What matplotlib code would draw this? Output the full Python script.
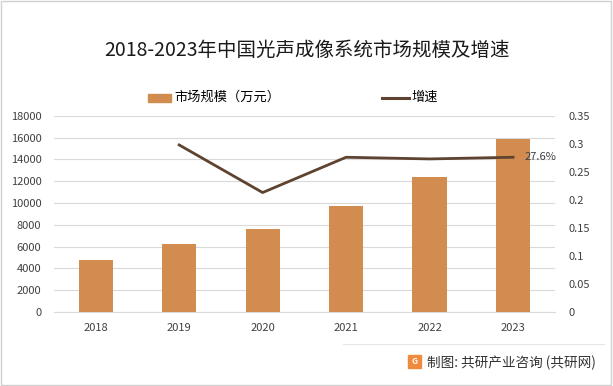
import numpy as np
import matplotlib.pyplot as plt
from matplotlib.patches import Rectangle
from matplotlib.lines import Line2D

plt.rcParams['font.family'] = ['Noto Sans CJK SC', 'DejaVu Sans']

years = ['2018', '2019', '2020', '2021', '2022', '2023']
market = [4800, 6260, 7640, 9750, 12400, 15900]
growth = [None, 0.298, 0.213, 0.276, 0.273, 0.276]

bar_color = '#D38C4F'
line_color = '#5E4330'

fig = plt.figure(figsize=(6.13, 3.86), dpi=100)
ax = fig.add_axes([0.088, 0.192, 0.817, 0.508])
x = np.arange(len(years))
ax.bar(x, market, width=0.41, color=bar_color, zorder=3)
ax.set_xlim(-0.5, len(years) - 0.5)
ax.set_ylim(0, 18000)
ax.set_yticks(np.arange(0, 18001, 2000))
ax.set_xticks(x)
ax.set_xticklabels(years)
ax.yaxis.grid(True, color='#D9D9D9', linewidth=0.8, zorder=0)
for s in ax.spines.values():
    s.set_visible(False)
ax.spines['bottom'].set_visible(True)
ax.spines['bottom'].set_color('#D9D9D9')
ax.tick_params(axis='both', length=0, labelsize=8, colors='#404040')
ax.tick_params(axis='y', pad=9)
ax.tick_params(axis='x', pad=8)

ax2 = ax.twinx()
gx = [i for i, g in enumerate(growth) if g is not None]
gy = [g for g in growth if g is not None]
ax2.plot(gx, gy, color=line_color, linewidth=2, zorder=4)
ax2.set_ylim(0, 0.35)
ax2.set_yticks(np.arange(0, 0.351, 0.05))
ax2.set_yticklabels(['0', '0.05', '0.1', '0.15', '0.2', '0.25', '0.3', '0.35'])
for s in ax2.spines.values():
    s.set_visible(False)
ax2.tick_params(axis='y', length=0, labelsize=8, colors='#404040', pad=10)
ax2.annotate('%.1f%%' % (gy[-1] * 100), (gx[-1], gy[-1]), xytext=(8, 0),
             textcoords='offset points', va='center', ha='left',
             fontsize=8, color='#404040')

fig.text(0.5, 0.868, '2018-2023年中国光声成像系统市场规模及增速',
         ha='center', va='center', fontsize=14, color='#1a1a1a')

# legend
fig.patches.append(Rectangle((0.241, 0.737), 0.038, 0.02, transform=fig.transFigure,
                             color=bar_color, figure=fig))
fig.text(0.285, 0.747, '市场规模（万元）', ha='left', va='center', fontsize=9.5)
fig.lines.append(Line2D([0.623, 0.668], [0.747, 0.747], transform=fig.transFigure,
                        color=line_color, linewidth=2.2, figure=fig))
fig.text(0.672, 0.747, '增速', ha='left', va='center', fontsize=9.5)

# footer
fig.lines.append(Line2D([0.56, 0.985], [0.108, 0.108], transform=fig.transFigure,
                        color='#E6E6E6', linewidth=0.8, figure=fig))
fig.patches.append(Rectangle((0.665, 0.046), 0.022, 0.034, transform=fig.transFigure,
                             color='#F08A3C', figure=fig))
fig.text(0.676, 0.063, 'G', ha='center', va='center', fontsize=6, color='white',
         fontweight='bold')
fig.text(0.697, 0.061, '制图: 共研产业咨询 (共研网)', ha='left', va='center',
         fontsize=9.8, color='#333333')

# border
fig.patches.append(Rectangle((0.002, 0.003), 0.994, 0.994, transform=fig.transFigure,
                             fill=False, edgecolor='#D0D0D0', linewidth=1, figure=fig))

fig.savefig('out.png', dpi=100)
